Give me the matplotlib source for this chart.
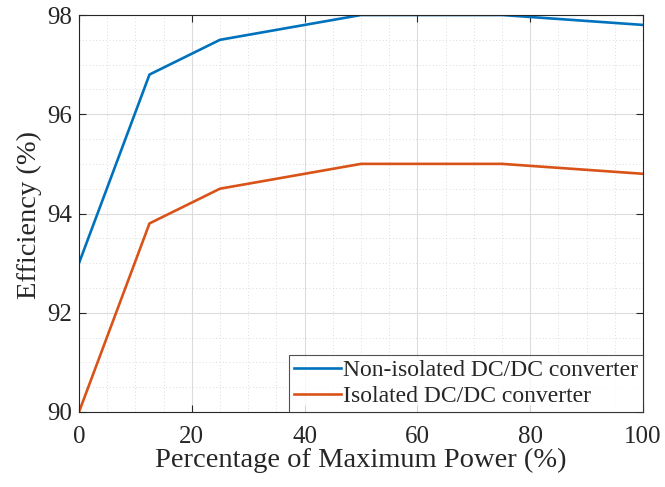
import matplotlib
matplotlib.use('Agg')
import matplotlib.pyplot as plt
from matplotlib.ticker import MultipleLocator

# data
power = [0, 12.5, 25, 50, 75, 100]
eff_nonisolated = [93.0, 96.8, 97.5, 98.0, 98.0, 97.8]
eff_isolated = [90.0, 93.8, 94.5, 95.0, 95.0, 94.8]
labels = ['Non-isolated DC/DC converter', 'Isolated DC/DC converter']

plt.rcParams['font.family'] = ['Liberation Serif', 'DejaVu Serif']
plt.rcParams['mathtext.fontset'] = 'stix'

fig = plt.figure(figsize=(6.65, 4.87), dpi=100)
ax = fig.add_axes([79/665, 1 - 412/487, (643 - 79)/665, (412 - 15)/487])

ax.plot(power, eff_nonisolated, color='#0072BD', lw=1.9, label=labels[0])
ax.plot(power, eff_isolated, color='#D95319', lw=1.9, label=labels[1])

ax.set_xlim(0, 100)
ax.set_ylim(90, 98)
ax.xaxis.set_major_locator(MultipleLocator(20))
ax.xaxis.set_minor_locator(MultipleLocator(5))
ax.yaxis.set_major_locator(MultipleLocator(2))
ax.yaxis.set_minor_locator(MultipleLocator(0.5))

ax.grid(which='major', color='#dcdcdc', lw=0.8, ls='-')
ax.grid(which='minor', color='#d0d0d0', lw=0.6, ls=(0, (1, 3)))
ax.set_axisbelow(True)

ax.tick_params(which='both', direction='in', top=True, right=True, labelsize=18,
               colors='#262626', length=5)
ax.tick_params(axis='x', pad=10)
ax.tick_params(axis='y', pad=5)
ax.tick_params(which='minor', length=0)
for s in ax.spines.values():
    s.set_color('#262626')
    s.set_linewidth(0.8)

ax.set_xlabel('Percentage of Maximum Power (%)', fontsize=20.5, color='#262626', labelpad=0)
ax.set_ylabel('Efficiency (%)', fontsize=20.5, color='#262626')
ax.yaxis.set_label_coords(-0.066, 0.497)

leg = ax.legend(loc='lower right', fontsize=17, frameon=True, fancybox=False,
                edgecolor='#262626', handlelength=2.0, handletextpad=0.1,
                borderpad=0.2, labelspacing=0.2, borderaxespad=0)
leg.get_frame().set_linewidth(0.8)
for t in leg.get_texts():
    t.set_color('#262626')

fig.savefig('out.png', dpi=100)
